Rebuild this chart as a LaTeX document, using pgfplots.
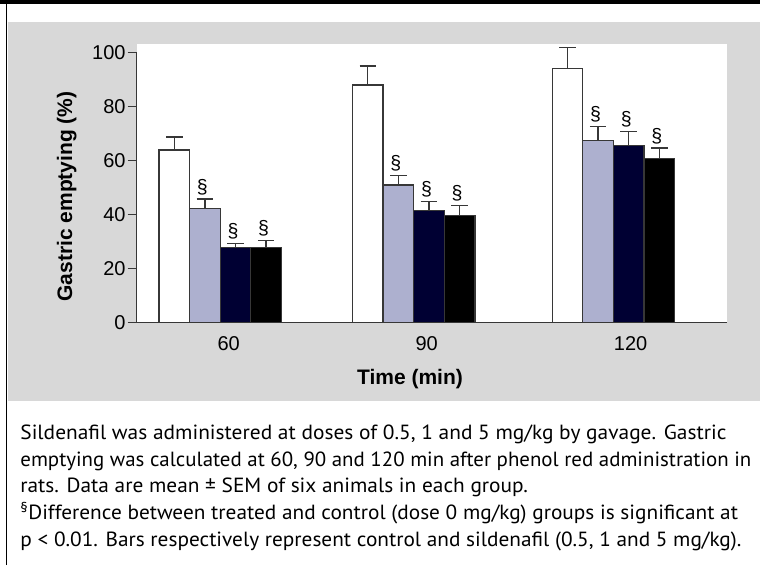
\documentclass[border=0pt]{standalone}
\usepackage{fontspec}
\setmainfont{Liberation Sans}
\newfontfamily\capfont{PT Sans}
\usepackage{graphicx}
\usepackage{pgfplots}
\pgfplotsset{compat=1.18}
\usepackage{pgfplotstable}
\definecolor{panelgray}{RGB}{216,216,216}
\definecolor{lav}{RGB}{173,176,207}
\definecolor{navy}{RGB}{0,0,51}
\definecolor{edge}{RGB}{55,55,55}

% x positions of the four bars of each group (60, 90, 120 min)
\pgfplotstableread{
x1 x2 x3 x4 y1 e1 y2 e2 y3 e3 y4 e4
174.3 204.9 235.5 266.1 64.0 4.8 42.4 3.4 27.8 1.6 27.8 2.6
367.8 398.4 429.0 459.6 88.0 7.1 51.0 3.4 41.5 3.3 39.8 3.5
567.5 598.1 628.7 659.3 94.1 7.9 67.4 5.2 65.7 5.2 60.7 4.0
}\bardata

\pgfplotstableread{
x y
202.4 45.8
233.0 29.4
263.6 30.4
395.9 54.4
426.5 44.8
457.1 43.3
595.6 72.6
626.2 70.9
656.8 64.7
}\sigdata

\newcommand\capline[3]{\node[anchor=base west, inner sep=0pt] at (20.2,#1) {\resizebox{#2pt}{\height}{\capfont\fontsize{20.5}{24}\selectfont #3}};}

\pgfplotsset{mybar/.style={ybar, bar width=30.6, bar shift=0pt, draw=edge, line width=1.3pt,
  error bars/.cd, y dir=plus, y explicit,
  error bar style={edge, line width=1.3pt},
  error mark options={rotate=90, edge, line width=1.3pt, mark size=8.3pt}}}

\begin{document}
\begin{tikzpicture}[x=1pt,y=1pt]
\fill[white] (0,0) rectangle (760,565);
\useasboundingbox (0,0) rectangle (760,565);
\fill[black] (0,561) rectangle (760,565);
\fill[panelgray] (8.3,164.3) rectangle (760,543);
\draw[black, line width=1.3] (6.7,0) -- (6.7,561);

\begin{axis}[
  at={(136.7pt,242.3pt)}, anchor=south west,
  scale only axis, width=590pt, height=278.7pt,
  xmin=136.7, xmax=726.7, ymin=0, ymax=103.22,
  axis background/.style={fill=white},
  axis x line=bottom, axis y line=left,
  axis line style={-, draw=edge, line width=1.3pt},
  y axis line style={draw=none},
  ytick={0,20,...,100},
  xtick={228.7,426.7,630.6}, xticklabels={60,90,120},
  tick align=outside, major tick length=9pt,
  ytick style={draw=edge, line width=1.3pt},
  xtick style={draw=none},
  ticklabel style={font=\fontsize{20}{24}\selectfont, inner sep=0pt},
  yticklabel style={xshift=-2pt},
  xticklabel style={yshift=-4.3pt},
  /pgf/number format/assume math mode=true,
  clip=false,
]
\draw[edge, line width=1.3pt] (axis cs:136.7,0) -- (axis cs:136.7,100);

\addplot[fill=white, mybar] table[x=x1, y=y1, y error=e1]{\bardata};
\addplot[fill=lav, mybar] table[x=x2, y=y2, y error=e2]{\bardata};
\addplot[fill=navy, mybar] table[x=x3, y=y3, y error=e3]{\bardata};
\addplot[fill=black, mybar] table[x=x4, y=y4, y error=e4]{\bardata};

\addplot[draw=none, mark=none, nodes near coords={\S},
  every node near coord/.style={anchor=south, inner sep=0pt, yshift=4pt,
    font=\fontsize{19.5}{22}\selectfont, text=black}]
  table[x=x, y=y]{\sigdata};
\end{axis}

\node[anchor=base, inner sep=0pt, font=\bfseries\fontsize{21}{25}\selectfont] at (410,180) {Time (min)};
\node[rotate=90, anchor=base, inner sep=0pt, font=\bfseries\fontsize{21}{25}\selectfont] at (72,368.5) {Gastric emptying (\%)};

\capline{125.7}{706}{Sildenafil was administered at doses of 0.5, 1 and 5 mg/kg by gavage. Gastric}
\capline{98.9}{731}{emptying was calculated at 60, 90 and 120 min after phenol red administration in}
\capline{72.1}{507.6}{rats. Data are mean ± SEM of six animals in each group.}
\capline{45.3}{717.6}{\textsuperscript{\S}Difference between treated and control (dose 0 mg/kg) groups is significant at}
\capline{18.5}{721}{p < 0.01. Bars respectively represent control and sildenafil (0.5, 1 and 5 mg/kg).}
\end{tikzpicture}
\end{document}
